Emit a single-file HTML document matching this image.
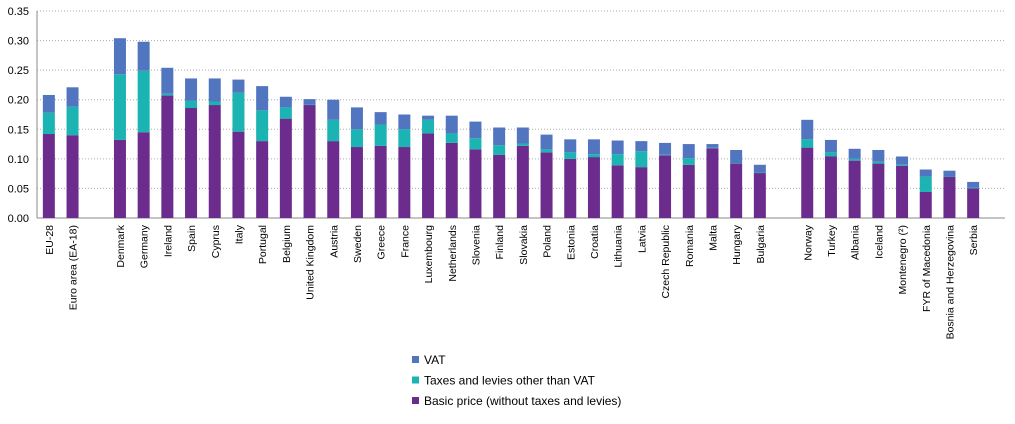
<!DOCTYPE html>
<html><head><meta charset="utf-8">
<style>
body{margin:0;background:#fff;font-family:"Liberation Sans",sans-serif;}
svg text{font-family:"Liberation Sans",sans-serif;font-size:11px;fill:#000;}
svg text.xl{font-size:10.5px;}
svg text.lg{font-size:12px;}
</style></head>
<body>
<svg id="chart" width="1015" height="419"></svg>
<script>
const categories=["EU-28","Euro area (EA-18)","","Denmark","Germany","Ireland","Spain","Cyprus","Italy","Portugal","Belgium","United Kingdom","Austria","Sweden","Greece","France","Luxembourg","Netherlands","Slovenia","Finland","Slovakia","Poland","Estonia","Croatia","Lithuania","Latvia","Czech Republic","Romania","Malta","Hungary","Bulgaria","","Norway","Turkey","Albania","Iceland","Montenegro (²)","FYR of Macedonia","Bosnia and Herzegovina","Serbia"];
const basicPrice=[0.142,0.140,null,0.132,0.145,0.207,0.186,0.191,0.146,0.130,0.168,0.191,0.130,0.120,0.122,0.120,0.143,0.127,0.116,0.107,0.122,0.111,0.100,0.103,0.089,0.086,0.106,0.090,0.118,0.092,0.076,null,0.119,0.104,0.097,0.092,0.088,0.044,0.070,0.050];
const otherTaxes=[0.036,0.048,null,0.111,0.104,0.003,0.012,0.006,0.066,0.052,0.019,0.001,0.036,0.030,0.036,0.030,0.023,0.016,0.019,0.016,0.004,0.005,0.011,0.005,0.019,0.027,0.001,0.011,0.001,0.001,0.001,null,0.014,0.007,0.003,0.003,0.002,0.026,0.001,0.001];
const vat=[0.030,0.033,null,0.061,0.049,0.044,0.038,0.039,0.022,0.041,0.018,0.009,0.034,0.037,0.021,0.025,0.007,0.030,0.028,0.030,0.027,0.025,0.022,0.025,0.023,0.017,0.020,0.024,0.006,0.022,0.013,null,0.033,0.021,0.017,0.020,0.014,0.012,0.009,0.010];
const yTicks=[0,0.05,0.10,0.15,0.20,0.25,0.30,0.35];
const seriesNames=["VAT","Taxes and levies other than VAT","Basic price (without taxes and levies)"];
const colors={basic:"#6B2C8E",other:"#1CB3B3",vat:"#5275C0"};

const NS="http://www.w3.org/2000/svg";
const svg=document.getElementById('chart');
const x0=37,slot=23.7,y0=218,yTop=11,yMax=0.35,bw=12;
const yS=v=>y0-(v/yMax)*(y0-yTop);
const xS=i=>x0+slot*(i+0.5);
function mk(t,a){const e=document.createElementNS(NS,t);for(const k in a)e.setAttribute(k,a[k]);svg.appendChild(e);return e;}

yTicks.forEach(t=>{
  const g=mk('line',{x1:37,x2:1005,y1:yS(t),y2:yS(t),stroke:t===0?'#888':'#aaa','stroke-dasharray':t===0?'':'1,2'});
  
  
  const l=mk('text',{x:29,y:yS(t)+4,'text-anchor':'end'});l.textContent=t.toFixed(2);
  
  
});
mk('line',{x1:37,x2:37,y1:yTop,y2:y0,stroke:'#888'});

categories.forEach((c,i)=>{
  if(basicPrice[i]==null)return;
  const cx=xS(i);
  const b=basicPrice[i],o=otherTaxes[i],v=vat[i];
  const r1=mk('rect',{x:cx-bw/2,y:yS(b),width:bw,height:y0-yS(b),fill:colors.basic});
  
  
  const r2=mk('rect',{x:cx-bw/2,y:yS(b+o),width:bw,height:yS(b)-yS(b+o),fill:colors.other});
  
  
  const r3=mk('rect',{x:cx-bw/2,y:yS(b+o+v),width:bw,height:yS(b+o)-yS(b+o+v),fill:colors.vat});
  
  
  const t=mk('text',{class:'xl',transform:`translate(${cx+4},225) rotate(-90)`,'text-anchor':'end'});
  t.textContent=c;
  
  
});

const lc=[colors.vat,colors.other,colors.basic];
seriesNames.forEach((n,i)=>{
  const y=360+i*20.5;
  const r=mk('rect',{x:412,y:y-4,width:7,height:7,fill:lc[i]});
  
  
  const t=mk('text',{class:'lg',x:424,y:y+4});t.textContent=n;
  
  
});
</script>
</body></html>
